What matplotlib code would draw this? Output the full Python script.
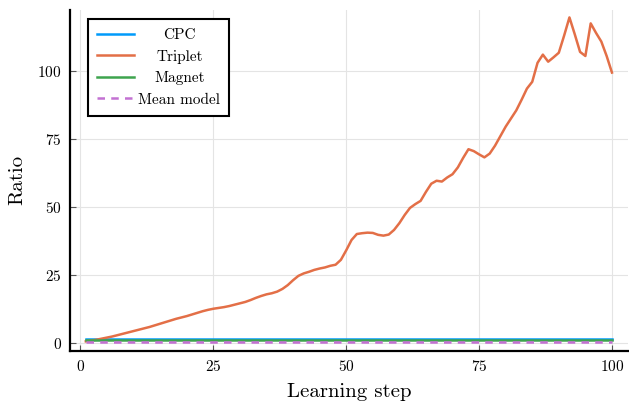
import matplotlib
matplotlib.use("Agg")
import matplotlib.pyplot as plt

# data
steps = list(range(1, 101))
triplet = [
    0.5, 0.8, 1.1, 1.5, 1.9, 2.3, 2.8, 3.3, 3.8, 4.3,
    4.8, 5.3, 5.8, 6.4, 7.0, 7.6, 8.2, 8.8, 9.3, 9.8,
    10.4, 11.0, 11.6, 12.1, 12.5, 12.8, 13.1, 13.5, 14.0, 14.5,
    15.0, 15.7, 16.5, 17.2, 17.8, 18.2, 18.8, 19.8, 21.2, 23.0,
    24.6, 25.5, 26.1, 26.8, 27.3, 27.7, 28.3, 28.7, 30.5, 34.0,
    37.8, 40.0, 40.3, 40.5, 40.4, 39.7, 39.4, 39.8, 41.5, 44.0,
    47.0, 49.6, 51.0, 52.2, 55.5, 58.5, 59.6, 59.3, 60.8, 62.0,
    64.5, 68.0, 71.2, 70.5, 69.3, 68.2, 69.6, 72.5, 76.0, 79.5,
    82.5, 85.5, 89.4, 93.5, 96.0, 103.0, 106.0, 103.4, 105.0, 106.7,
    113.0, 119.7, 113.5, 107.0, 105.5, 117.5, 114.0, 110.8, 105.5, 99.4,
]
flat_steps = [1, 25, 50, 75, 100]
cpc = [1.25, 1.25, 1.25, 1.25, 1.25]
magnet = [0.9, 0.9, 0.9, 0.9, 0.9]
mean_model = [0.2, 0.2, 0.2, 0.2, 0.2]

xticks = [0, 25, 50, 75, 100]
yticks = [0, 25, 50, 75, 100]

plt.rcParams['font.family'] = ['cmr10', 'DejaVu Serif']
plt.rcParams['axes.formatter.use_mathtext'] = True

fig = plt.figure(figsize=(6.29, 4.05), dpi=100)
ax = fig.add_axes([0.1113, 0.1333, 0.8867, 0.8432])

ax.plot(flat_steps, cpc, color="#009AFA", lw=1.8, label="CPC")
ax.plot(steps, triplet, color="#E36F47", lw=1.8, label="Triplet")
ax.plot(flat_steps, magnet, color="#3EA44E", lw=1.8, label="Magnet")
ax.plot(flat_steps, mean_model, color="#C371D2", lw=1.8, ls=(0, (3, 2.5)),
        label="Mean model")

ax.set_xlim(-1.97, 102.97)
ax.set_ylim(-3.05, 122.6)
ax.set_xticks(xticks)
ax.set_yticks(yticks)
ax.grid(True, color="#e4e4e4", lw=0.8)
ax.set_axisbelow(True)
for s in ["top", "right"]:
    ax.spines[s].set_visible(False)
for s in ["left", "bottom"]:
    ax.spines[s].set_linewidth(1.6)
    ax.spines[s].set_color("black")
ax.tick_params(direction="in", length=4, width=0.8, color="#555555",
               labelsize=11, pad=6)

ax.set_xlabel("Learning step", fontsize=15, labelpad=6)
ax.set_ylabel("Ratio", fontsize=15, labelpad=8)

leg = ax.legend(loc="upper left", bbox_to_anchor=(0.032, 0.972),
                borderaxespad=0, fancybox=False, framealpha=1,
                edgecolor="black", fontsize=11, handlelength=2.4,
                handletextpad=0.3, labelspacing=0.5, borderpad=0.6)
leg.get_frame().set_linewidth(1.5)

# center the legend labels like the original
fig.canvas.draw()
r = fig.canvas.get_renderer()
texts = leg.get_texts()
ws = [t.get_window_extent(r).width for t in texts]
mw = max(ws)
for t, w in zip(texts, ws):
    t.set_position(((mw - w) / 2, 0))

fig.savefig("out.png", dpi=100)
